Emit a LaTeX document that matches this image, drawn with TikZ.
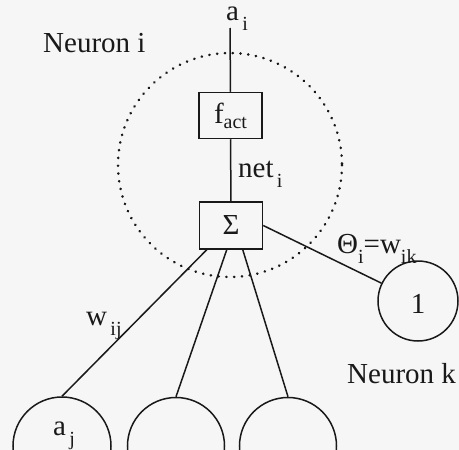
\documentclass[tikz,border=0pt]{standalone}
\usepackage{fontspec}
\setmainfont{Liberation Serif}
\usetikzlibrary{calc}
\definecolor{bgc}{RGB}{246,246,246}
\definecolor{ink}{RGB}{25,25,25}
\newcommand{\sbs}[2][10pt]{\raisebox{-#1}{\fontsize{20}{20}\selectfont #2}}
\tikzset{
  txt/.style={font=\fontsize{29}{34}\selectfont, text=ink, inner sep=0pt},
  boxn/.style={draw=ink, line width=1.5pt, minimum width=63pt, minimum height=46pt, inner sep=0pt, font=\fontsize{29}{34}\selectfont, text=ink},
  neur/.style={draw=ink, line width=1.5pt, circle, minimum size=#1, inner sep=0pt, font=\fontsize{29}{34}\selectfont, text=ink},
  conn/.style={draw=ink, line width=1.5pt},
  dotc/.style={draw=ink, line width=2.6pt, dash pattern=on 0.3pt off 7.5pt, line cap=round}
}
\begin{document}
\begin{tikzpicture}[x=1pt,y=-1pt]
\path[fill=bgc] (0,0) rectangle (459,450);
\useasboundingbox (0,0) rectangle (459,450);
\clip (0,0) rectangle (459,450);
% dotted neuron boundary
\draw[dotc] (230,165) circle[radius=112];
% nodes
\node[boxn] (fact) at (230.5,115.5) {f\sbs[5pt]{act}};
\node[boxn, minimum height=47pt] (sum) at (231,225.5) {Σ};
\node[neur=80pt] (nk) at (418,301) {};
\node[txt] at (418,304) {1};
\node[neur=98pt] (n1) at (62,446) {};
\node[neur=97pt] (n2) at (176,446) {};
\node[neur=97pt] (n3) at (288,446) {};
\node[txt, anchor=base] (aj) at (64,435) {a\sbs{\,j}};
% labels
\node[txt, anchor=base] (ai) at (237,20) {a\sbs{\,i}};
\node[txt, anchor=base west] (ni) at (43,52) {Neuron i};
\node[txt, anchor=base west] (net) at (238,177) {net\sbs{\,i}};
\node[txt, anchor=base west] (theta) at (337,253) {Θ\sbs{i}=w\sbs{ik}};
\node[txt, anchor=base west] (wij) at (86,325) {w\sbs{\,ij}};
\node[txt, anchor=base west] (nkl) at (347,383) {Neuron k};
% connectors
\coordinate (top) at (230,28);
\draw[conn] (top) -- (fact.north);
\draw[conn] (fact.south) -- (sum.north);
\coordinate (s1) at ($(sum.south west)+(8,0)$);
\coordinate (s2) at ($(sum.south west)+(28,0)$);
\coordinate (s3) at ($(sum.south west)+(44,0)$);
\draw[conn] (s1) -- (n1.north);
\draw[conn] (s2) -- (n2.north);
\draw[conn] (s3) -- (n3.north);
\draw[conn] (sum.east) -- (nk);
\end{tikzpicture}
\end{document}
